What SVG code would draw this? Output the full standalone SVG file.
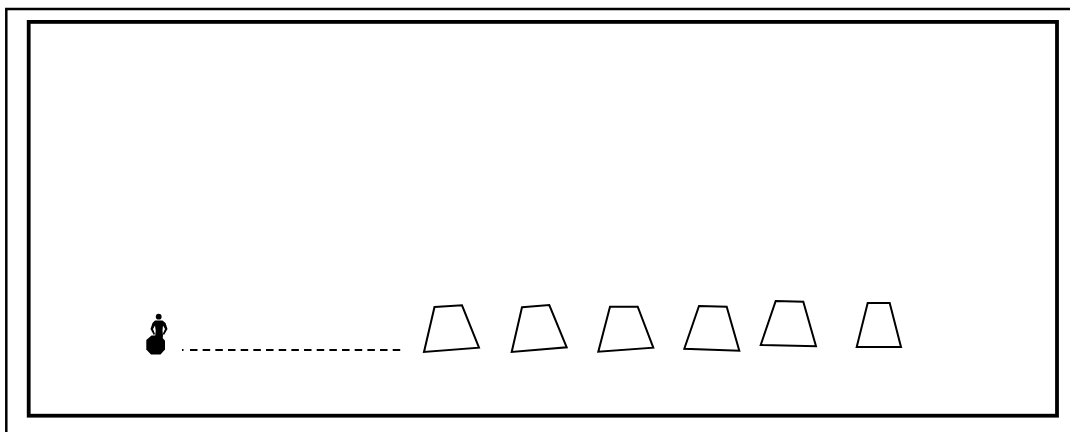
<svg xmlns="http://www.w3.org/2000/svg" width="1070" height="432" viewBox="0 0 1070 432">
<style>
.frame{fill:none;stroke:#000}
.trap{fill:none;stroke:#000;stroke-width:2;stroke-linejoin:miter}
.dash{fill:none;stroke:#000;stroke-width:1.8;stroke-dasharray:7.5 5.17}
</style>
<rect width="1070" height="432" fill="#fff"/>
<path id="outer-frame" class="frame" stroke-width="2.500" d="M1070 9H6.300V432"/>
<rect id="inner-frame" class="frame" stroke-width="3.800" x="28.700" y="21.900" width="1028.300" height="393.800"/>
<g id="person">
<polygon fill="#000" points="151.500,335.500 160,335.500 165,340.500 165,349.500 160.500,354.500 151,354.500 146.300,349.500 146.300,340"/>
<circle cx="158.700" cy="316.700" r="2.900" fill="#000"/>
<path fill="#000" d="M155 320.500h7.500l3 2.500 2 6-3.500 6-1.200-1 2.200-5-2-3.500-.5 5 .5 5.500-1 6h-6l-.8-6 .5-5.500-.7-5-2 3.500 2 5-1.200 1-3.300-6 2-6z"/>
</g>
<g id="connectors">
<path class="dash" d="M182 350h1.500M190 350H401"/>
</g>
<g id="seat-1"><polygon class="trap" points="434.500,307 462,305.300 479,347.700 424,352"/></g>
<g id="seat-2"><polygon class="trap" points="522,307.300 549.300,305 566.700,347.300 511.700,352"/></g>
<g id="seat-3"><polygon class="trap" points="610,306.700 637.700,306.700 653.300,347.700 598.300,351.700"/></g>
<g id="seat-4"><polygon class="trap" points="699,306 726.700,306.700 739.300,350.700 684.300,348.700"/></g>
<g id="seat-5"><polygon class="trap" points="775.700,301 803.300,301.700 816,346.300 760.700,345"/></g>
<g id="seat-6"><polygon class="trap" points="867.700,303 889.700,303 901,347 856.700,347"/></g>
</svg>
